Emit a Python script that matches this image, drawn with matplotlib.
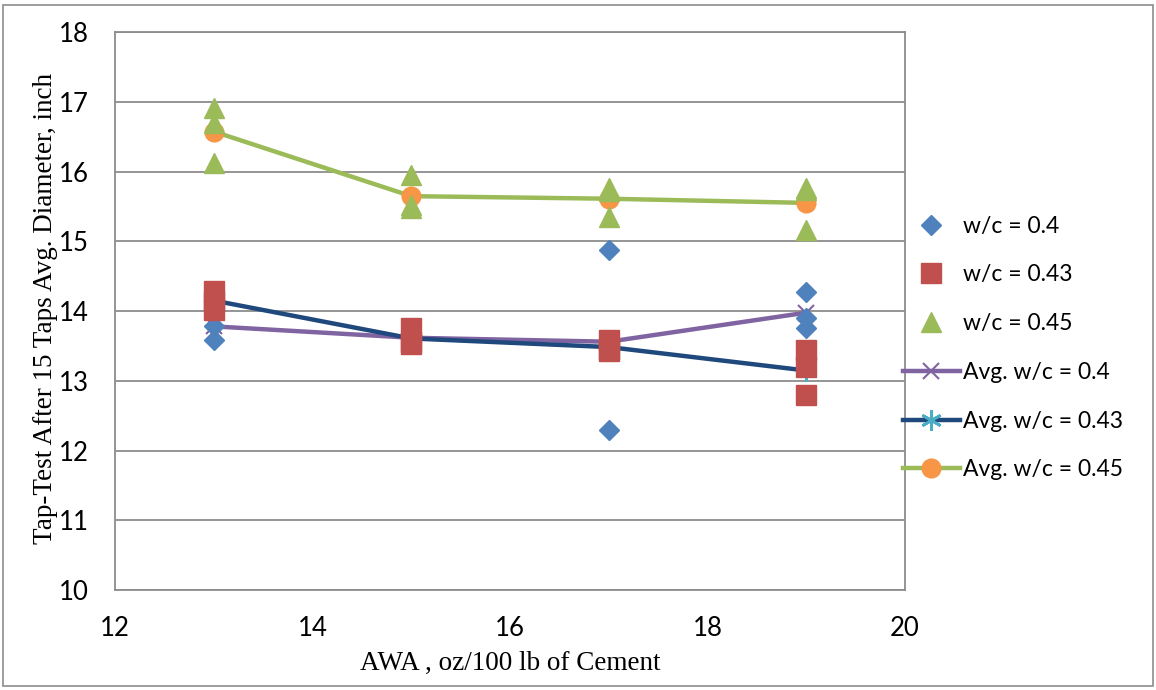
import matplotlib
matplotlib.use('Agg')
from matplotlib import pyplot as plt
from matplotlib.patches import Rectangle
import numpy as np

# AWA dosage (oz/100 lb of cement)
awa = [13, 15, 17, 19]

# individual tap-test readings, three per dosage
wc40 = [[13.97, 13.78, 13.59], [13.70, 13.60, 13.55], [14.87, 13.52, 12.29], [14.27, 13.90, 13.76]]
wc43 = [[14.28, 14.15, 14.02], [13.75, 13.55, 13.52], [13.58, 13.45, 13.42], [13.44, 13.20, 12.80]]
wc45 = [[16.91, 16.69, 16.12], [15.95, 15.52, 15.47], [15.76, 15.72, 15.35], [15.76, 15.73, 15.16]]

labels_pts = ['w/c = 0.4', 'w/c = 0.43', 'w/c = 0.45']
labels_avg = ['Avg. w/c = 0.4', 'Avg. w/c = 0.43', 'Avg. w/c = 0.45']

sans = ['Lato', 'DejaVu Sans']
serif = ['Liberation Serif', 'DejaVu Serif']

fig = plt.figure(figsize=(11.56, 6.9), dpi=100)
ax = fig.add_axes([0.0995, 0.1449, 0.6834, 0.8087])

# averages lines
avg_style = [
    ('#8064A2', 'x', '#8064A2', 11, 1.5),
    ('#1F497D', (6, 2, 0), '#4BACC6', 15, 2.0),
    ('#9BBB59', 'o', '#F79646', 13, 1.5),
]
handles_avg = []
for data, lab, (lc, mk, mc, ms, mew) in zip([wc40, wc43, wc45], labels_avg, avg_style):
    means = [np.mean(v) for v in data]
    h, = ax.plot(awa, means, color=lc, lw=3.2, marker=mk, markersize=ms,
                 markerfacecolor=mc, markeredgecolor=mc, markeredgewidth=mew,
                 label=lab, zorder=2)
    handles_avg.append(h)

# individual points
pt_style = [('D', '#4F81BD', 10), ('s', '#C0504D', 14), ('^', '#9BBB59', 14)]
handles_pts = []
for data, lab, (mk, c, ms) in zip([wc40, wc43, wc45], labels_pts, pt_style):
    xs = np.repeat(awa, [len(v) for v in data])
    ys = np.concatenate(data)
    h, = ax.plot(xs, ys, linestyle='none', marker=mk, markersize=ms,
                 color=c, markeredgecolor=c, label=lab, zorder=3)
    handles_pts.append(h)

ax.set_xlim(12, 20)
ax.set_ylim(10, 18)
ax.set_xticks([12, 14, 16, 18, 20])
ax.set_yticks(range(10, 19))
ax.yaxis.grid(True, color='#8c8c8c', lw=1.3)
ax.set_axisbelow(True)
for s in ax.spines.values():
    s.set_color('#8c8c8c')
    s.set_linewidth(1.3)
ax.tick_params(axis='both', length=0, labelsize=18.5, pad=19)
for t in ax.get_xticklabels() + ax.get_yticklabels():
    t.set_fontfamily(sans)

ax.set_xlabel('AWA , oz/100 lb of Cement', family=serif, fontsize=19.5, va='center')
ax.xaxis.set_label_coords(0.5, -0.131)
ax.set_ylabel('Tap-Test After 15 Taps Avg. Diameter, inch', family=serif, fontsize=19.5, va='center')
ax.yaxis.set_label_coords(-0.088, 0.505)

leg = fig.legend(handles_pts + handles_avg, labels_pts + labels_avg,
                 loc='center left', bbox_to_anchor=(0.781, 0.4957),
                 frameon=False, prop={'family': sans, 'size': 16.5},
                 handlelength=2.5, handletextpad=0.13, labelspacing=1.21,
                 borderaxespad=0, borderpad=0, numpoints=1)

fig.patches.append(Rectangle((0.003, 0.006), 0.994, 0.987, transform=fig.transFigure,
                             fill=False, edgecolor='#8c8c8c', lw=1.2))

plt.savefig('out.png', dpi=100)
